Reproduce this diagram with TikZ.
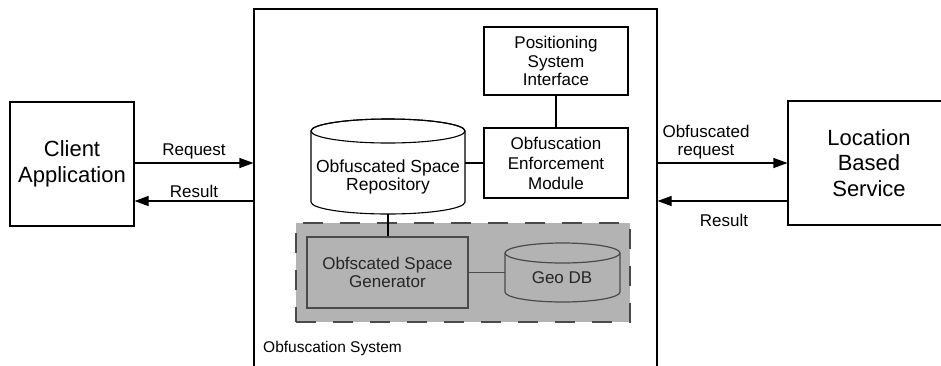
\documentclass[tikz,border=0pt]{standalone}
\usepackage{fontspec}
\setmainfont{Liberation Sans}
\usetikzlibrary{arrows.meta}
\definecolor{shade}{HTML}{B3B3B3}
\definecolor{dgray}{HTML}{4A4A4A}
\begin{document}
\begin{tikzpicture}[x=1pt,y=-1pt,
  box/.style={draw=black, line width=1.1pt, fill=white, inner sep=0pt, align=center},
  big/.style={font=\fontsize{22}{25.5}\selectfont},
  mid/.style={font=\fontsize{17}{19}\selectfont},
  lab/.style={font=\fontsize{17}{18}\selectfont, inner sep=0pt, align=center},
  arr/.style={line width=1.1pt, -{Triangle[length=14pt,width=10pt]}},
  conn/.style={line width=1.1pt},
]
\useasboundingbox (0,0) rectangle (941,365);

% outer system box
\node[draw=black, line width=1.1pt, minimum width=403pt, minimum height=365pt, inner sep=0pt] (sys) at (455.5,191.5) {};
\node[font=\fontsize{15.5}{17}\selectfont, anchor=base west, inner sep=0pt] (syslab) at (263,352) {Obfuscation System};

% side boxes
\node[box, big, minimum width=124pt, minimum height=124pt] (client) at (72,164) {Client\\Application};
\node[box, big, minimum width=162pt, minimum height=124pt] (lbs) at (869,163) {Location\\Based\\Service};

% inner boxes
\node[box, mid, minimum width=144pt, minimum height=68pt, font=\fontsize{17}{18.5}\selectfont] (psi) at (556,61) {Positioning\\System\\Interface};
\node[box, mid, minimum width=144pt, minimum height=70pt, font=\fontsize{17}{20}\selectfont] (oem) at (556,163) {Obfuscation\\Enforcement\\Module};

% repository cylinder
\draw[conn, fill=white] (311,131) -- (311,202) arc[start angle=180, end angle=0, x radius=77, y radius=12]
  -- (465,131) arc[start angle=0, end angle=-180, x radius=77, y radius=12] -- cycle;
\draw[conn] (388,131) ellipse[x radius=77, y radius=12];
\node[minimum width=154pt, minimum height=95pt, inner sep=0pt] (rep) at (388,166.5) {};
\node[lab, font=\fontsize{17.5}{17.5}\selectfont] (replab) at (388,177) {Obfuscated Space\\Repository};

% shaded region
\node[draw=dgray, fill=shade, line width=2.2pt, dash pattern=on 20pt off 17pt, minimum width=334pt, minimum height=99pt, inner sep=0pt] (region) at (463,272.5) {};
\node[draw=dgray, line width=1.2pt, minimum width=161pt, minimum height=71pt, inner sep=0pt, align=center, text=black!85, font=\fontsize{17}{18}\selectfont] (gen) at (387.5,272.5) {Obfscated Space\\Generator};

% Geo DB cylinder
\draw[draw=dgray, line width=1.2pt] (505,253) -- (505,292) arc[start angle=180, end angle=0, x radius=57.5, y radius=10] -- (620,253);
\draw[draw=dgray, line width=1.2pt] (562.5,253) ellipse[x radius=57.5, y radius=10];
\node[minimum width=115pt, minimum height=59pt, inner sep=0pt] (geo) at (562.5,272.5) {};
\node[lab, text=black!85, anchor=base] (geolab) at (562,283) {Geo DB};

% internal connectors
\draw[conn] (psi.south) -- (oem.north);
\draw[conn] (oem.west) -- (oem.west -| rep.east);
\draw[conn] (rep.south) -- (gen.north -| rep.south);
\draw[draw=dgray, line width=1.2pt] (gen.east) -- (gen.east -| geo.west);

% external arrows
\coordinate (yreq) at (0,163);
\coordinate (yres) at (0,201);
\draw[arr] (client.east |- yreq) -- (sys.west |- yreq);
\draw[arr] (sys.west |- yres) -- (client.east |- yres);
\draw[arr] (sys.east |- yreq) -- (lbs.west |- yreq);
\draw[arr] (lbs.west |- yres) -- (sys.east |- yres);

\node[lab, anchor=base] (lreq) at (194,155) {Request};
\node[lab, anchor=base] (lres) at (194,197) {Result};
\node[lab] (loreq) at (706,142) {Obfuscated\\request};
\node[lab, anchor=base] (lres2) at (724,226) {Result};
\end{tikzpicture}
\end{document}
